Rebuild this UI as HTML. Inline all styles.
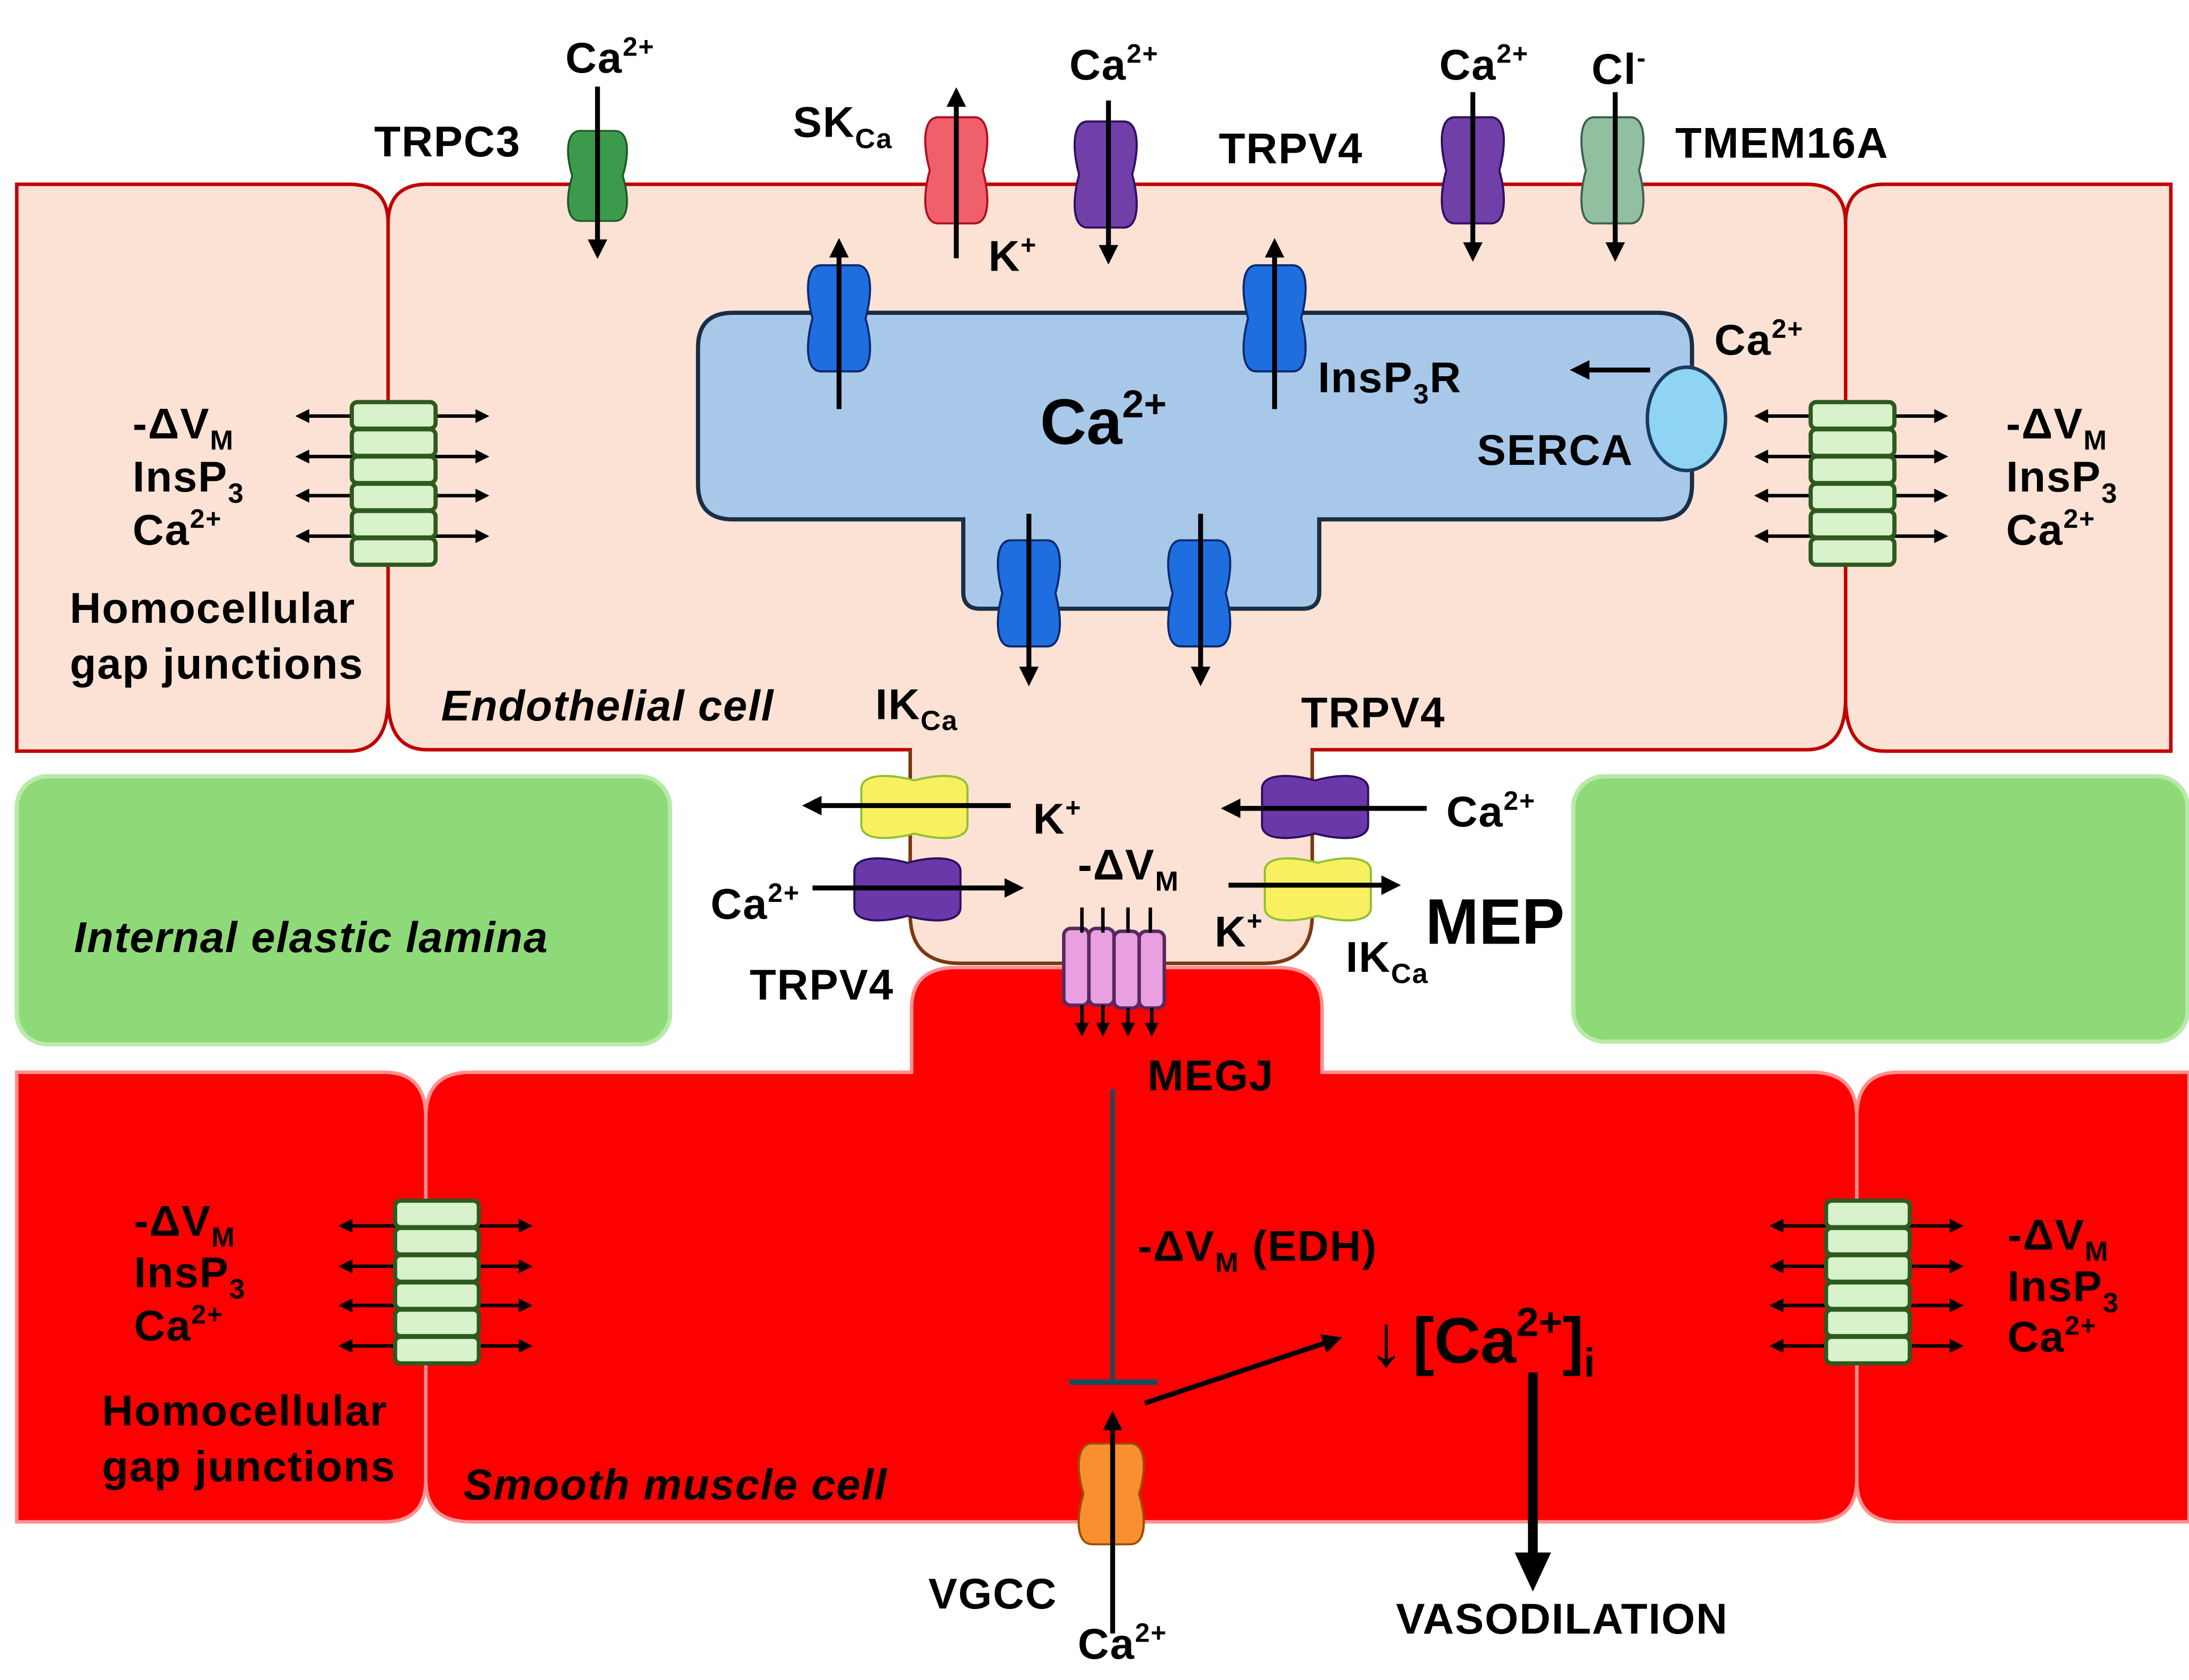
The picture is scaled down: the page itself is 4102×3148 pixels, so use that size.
<!DOCTYPE html>
<html><head><meta charset="utf-8"><style>
html,body{margin:0;padding:0;background:#fff;}
svg{display:block;}
text{font-family:"Liberation Sans",Arial,sans-serif;font-weight:bold;fill:#000;}
.l{font-size:31px;letter-spacing:0.7px;}
</style></head><body>
<svg width="4102" height="3148" viewBox="0 0 1568 1203.3" preserveAspectRatio="none" xmlns="http://www.w3.org/2000/svg">
<defs>
<marker id="ah" markerWidth="4" markerHeight="4" refX="3" refY="2" orient="auto-start-reverse" markerUnits="strokeWidth"><path d="M0,0 L4,2 L0,4 Z" fill="#000"/></marker>
<g id="vch"><path d="M-13,-38 C-24,-38 -24,-18 -19,0 C-24,18 -24,38 -13,38 L13,38 C24,38 24,18 19,0 C24,-18 24,-38 13,-38 Z"/></g>
<g id="hch"><path d="M-38,-13 C-38,-24 -18,-24 0,-19 C18,-24 38,-24 38,-13 L38,13 C38,24 18,24 0,19 C-18,24 -38,24 -38,13 Z"/></g>
<g id="gj">
<rect x="0" y="0" width="60" height="19" rx="4" fill="#d8f2cc" stroke="#2d5a1e" stroke-width="3"/>
<rect x="0" y="19.5" width="60" height="19" rx="4" fill="#d8f2cc" stroke="#2d5a1e" stroke-width="3"/>
<rect x="0" y="39" width="60" height="19" rx="4" fill="#d8f2cc" stroke="#2d5a1e" stroke-width="3"/>
<rect x="0" y="58.5" width="60" height="19" rx="4" fill="#d8f2cc" stroke="#2d5a1e" stroke-width="3"/>
<rect x="0" y="78" width="60" height="19" rx="4" fill="#d8f2cc" stroke="#2d5a1e" stroke-width="3"/>
<rect x="0" y="97.5" width="60" height="19" rx="4" fill="#d8f2cc" stroke="#2d5a1e" stroke-width="3"/>
</g>
<g id="gja" stroke="#000" stroke-width="2.5" marker-start="url(#ah)" marker-end="url(#ah)">
<line x1="-38" y1="10" x2="96" y2="10"/><line x1="-38" y1="39" x2="96" y2="39"/>
<line x1="-38" y1="67" x2="96" y2="67"/><line x1="-38" y1="96" x2="96" y2="96"/>
</g>
</defs>

<path d="M12,132 L250,132 Q278,132 278,160 L278,500 Q278,538 250,538 L12,538 Z" fill="#fbe2d4" stroke="#c00000" stroke-width="2.5"/>
<path d="M1555,132 L1350,132 Q1322,132 1322,160 L1322,500 Q1322,538 1350,538 L1555,538 Z" fill="#fbe2d4" stroke="#c00000" stroke-width="2.5"/>
<path d="M278,160 Q278,132 306,132 L1294,132 Q1322,132 1322,160 L1322,500 Q1322,537 1294,537 L940,537 L940,655 Q940,690 905,690 L688,690 Q652,690 652,655 L652,537 L306,537 Q278,537 278,500 Z" fill="#fbe2d4" stroke="#c00000" stroke-width="2.5"/>
<path d="M652,537 L652,655 Q652,690 688,690 L905,690 Q940,690 940,655 L940,537" fill="none" stroke="#7a3a10" stroke-width="2.5"/>
<rect x="654" y="530" width="284" height="14" fill="#fbe2d4"/>

<rect x="12" y="556" width="468" height="192" rx="22" fill="#8fda78" stroke="#b8eaa8" stroke-width="3"/>
<rect x="1127" y="556" width="440" height="190" rx="22" fill="#8fda78" stroke="#b8eaa8" stroke-width="3"/>

<path d="M12,768 L275,768 Q305,768 305,800 L305,1060 Q305,1090 275,1090 L12,1090 Z" fill="#ff0000" stroke="#ff9090" stroke-width="2.5"/>
<path d="M1568,768 L1360,768 Q1330,768 1330,800 L1330,1060 Q1330,1090 1360,1090 L1568,1090 Z" fill="#ff0000" stroke="#ff9090" stroke-width="2.5"/>
<path d="M305,800 Q305,768 337,768 L653,768 L653,722 Q653,693 685,693 L915,693 Q947,693 947,722 L947,768 L1298,768 Q1330,768 1330,800 L1330,1060 Q1330,1090 1298,1090 L337,1090 Q305,1090 305,1060 Z" fill="#ff0000" stroke="#ff9090" stroke-width="2.5"/>

<path d="M525,224 L1187,224 Q1212,224 1212,249 L1212,347 Q1212,372 1187,372 L945,372 L945,424 Q945,436 933,436 L702,436 Q690,436 690,424 L690,372 L525,372 Q500,372 500,347 L500,249 Q500,224 525,224 Z" fill="#a8c8ea" stroke="#1a2e44" stroke-width="3"/>

<use href="#vch" transform="translate(428,126) scale(0.95,0.85)" fill="#3c9a4c" stroke="#1e5a28" stroke-width="1.5"/>
<use href="#vch" transform="translate(685,122)" fill="#f0606a" stroke="#b01020" stroke-width="1.5"/>
<use href="#vch" transform="translate(792,125)" fill="#7040a8" stroke="#301060" stroke-width="1.5"/>
<use href="#vch" transform="translate(1055,122)" fill="#7040a8" stroke="#301060" stroke-width="1.5"/>
<use href="#vch" transform="translate(1155,122)" fill="#90c0a0" stroke="#406050" stroke-width="1.5"/>
<g stroke="#000" stroke-width="3.5" marker-end="url(#ah)">
<line x1="428" y1="62" x2="428" y2="182"/>
<line x1="685" y1="185" x2="685" y2="66"/>
<line x1="794" y1="72" x2="794" y2="186"/>
<line x1="1055" y1="66" x2="1055" y2="184"/>
<line x1="1157" y1="66" x2="1157" y2="184"/>
</g>

<use href="#vch" transform="translate(601,228)" fill="#1e6ee0" stroke="#0a2a70" stroke-width="1.5"/>
<use href="#vch" transform="translate(913,228)" fill="#1e6ee0" stroke="#0a2a70" stroke-width="1.5"/>
<use href="#vch" transform="translate(737,425)" fill="#1e6ee0" stroke="#0a2a70" stroke-width="1.5"/>
<use href="#vch" transform="translate(859,425)" fill="#1e6ee0" stroke="#0a2a70" stroke-width="1.5"/>
<g stroke="#000" stroke-width="3.5" marker-end="url(#ah)">
<line x1="601" y1="293" x2="601" y2="174"/>
<line x1="913" y1="293" x2="913" y2="174"/>
<line x1="737" y1="368" x2="737" y2="488"/>
<line x1="860" y1="368" x2="860" y2="488"/>
<line x1="1182" y1="265" x2="1128" y2="265"/>
</g>
<ellipse cx="1208" cy="300" rx="28" ry="37" fill="#8fd4f2" stroke="#1a3a60" stroke-width="2.5"/>

<use href="#hch" transform="translate(655,578)" fill="#f8f060" stroke="#90c030" stroke-width="1.5"/>
<use href="#hch" transform="translate(650,637)" fill="#6a38a8" stroke="#2a1060" stroke-width="1.5"/>
<use href="#hch" transform="translate(942,578)" fill="#6a38a8" stroke="#2a1060" stroke-width="1.5"/>
<use href="#hch" transform="translate(944,637)" fill="#f8f060" stroke="#90c030" stroke-width="1.5"/>
<g stroke="#000" stroke-width="3.5" marker-end="url(#ah)">
<line x1="724" y1="577" x2="578" y2="577"/>
<line x1="582" y1="636" x2="730" y2="636"/>
<line x1="1022" y1="579" x2="878" y2="579"/>
<line x1="880" y1="634" x2="1000" y2="634"/>
</g>

<g fill="#e8a0e0" stroke="#5a2860" stroke-width="2.5">
<rect x="762" y="665" width="18" height="55" rx="5"/>
<rect x="780" y="665" width="18" height="55" rx="5"/>
<rect x="798" y="667" width="18" height="55" rx="5"/>
<rect x="816" y="667" width="18" height="55" rx="5"/>
</g>
<g stroke="#000" stroke-width="2.5">
<line x1="775" y1="650" x2="775" y2="668"/><line x1="790" y1="650" x2="790" y2="668"/>
<line x1="808" y1="650" x2="808" y2="668"/><line x1="824" y1="650" x2="824" y2="668"/>
</g>
<g stroke="#000" stroke-width="2.5" marker-end="url(#ah)">
<line x1="775" y1="720" x2="775" y2="740"/><line x1="790" y1="720" x2="790" y2="740"/>
<line x1="808" y1="722" x2="808" y2="740"/><line x1="825" y1="722" x2="825" y2="740"/>
</g>

<line x1="797" y1="780" x2="797" y2="990" stroke="#1a4a5c" stroke-width="3"/>
<line x1="766" y1="990" x2="829" y2="990" stroke="#1a4a5c" stroke-width="4"/>

<use href="#vch" transform="translate(796,1070) scale(1.05,0.95)" fill="#f89030" stroke="#a04a00" stroke-width="1.5"/>
<g stroke="#000" stroke-width="3.5" marker-end="url(#ah)">
<line x1="797" y1="1170" x2="797" y2="1014"/>
<line x1="820" y1="1005" x2="958" y2="959"/>
</g>
<line x1="1098" y1="983" x2="1098" y2="1115" stroke="#000" stroke-width="7"/>
<path d="M1085,1112 L1111,1112 L1098,1140 Z" fill="#000"/>

<use href="#gja" transform="translate(252,288)"/>
<use href="#gj" transform="translate(252,288)"/>
<use href="#gja" transform="translate(1297,288)"/>
<use href="#gj" transform="translate(1297,288)"/>
<use href="#gja" transform="translate(283,868)"/>
<use href="#gj" transform="translate(283,860)"/>
<use href="#gja" transform="translate(1308,868)"/>
<use href="#gj" transform="translate(1308,860)"/>

<g class="l">
<text x="405" y="52">Ca<tspan font-size="19" dy="-12">2+</tspan></text>
<text x="268" y="112">TRPC3</text>
<text x="568" y="98">SK<tspan font-size="20" dy="8">Ca</tspan></text>
<text x="708" y="194">K<tspan font-size="19" dy="-12">+</tspan></text>
<text x="766" y="57">Ca<tspan font-size="19" dy="-12">2+</tspan></text>
<text x="873" y="117">TRPV4</text>
<text x="1031" y="57">Ca<tspan font-size="19" dy="-12">2+</tspan></text>
<text x="1140" y="60">Cl<tspan font-size="19" dy="-12">-</tspan></text>
<text x="1200" y="113">TMEM16A</text>
<text x="944" y="281">InsP<tspan font-size="20" dy="8">3</tspan><tspan dy="-8">R</tspan></text>
<text x="1228" y="254">Ca<tspan font-size="19" dy="-12">2+</tspan></text>
<text x="1058" y="333">SERCA</text>
<text x="95" y="314">-ΔV<tspan font-size="20" dy="8">M</tspan></text>
<text x="95" y="352">InsP<tspan font-size="20" dy="8">3</tspan></text>
<text x="95" y="390">Ca<tspan font-size="19" dy="-12">2+</tspan></text>
<text x="50" y="446">Homocellular</text>
<text x="50" y="486">gap junctions</text>
<text x="1437" y="314">-ΔV<tspan font-size="20" dy="8">M</tspan></text>
<text x="1437" y="352">InsP<tspan font-size="20" dy="8">3</tspan></text>
<text x="1437" y="390">Ca<tspan font-size="19" dy="-12">2+</tspan></text>
<text x="316" y="516" font-style="italic">Endothelial cell</text>
<text x="627" y="515">IK<tspan font-size="20" dy="8">Ca</tspan></text>
<text x="932" y="521">TRPV4</text>
<text x="740" y="597">K<tspan font-size="19" dy="-12">+</tspan></text>
<text x="1036" y="592">Ca<tspan font-size="19" dy="-12">2+</tspan></text>
<text x="509" y="658">Ca<tspan font-size="19" dy="-12">2+</tspan></text>
<text x="772" y="630">-ΔV<tspan font-size="20" dy="8">M</tspan></text>
<text x="870" y="678">K<tspan font-size="19" dy="-12">+</tspan></text>
<text x="964" y="696">IK<tspan font-size="20" dy="8">Ca</tspan></text>
<text x="537" y="716">TRPV4</text>
<text x="53" y="682" font-style="italic">Internal elastic lamina</text>
<text x="822" y="781">MEGJ</text>
<text x="815" y="903">-ΔV<tspan font-size="20" dy="8">M</tspan><tspan dy="-8"> (EDH)</tspan></text>
<text x="96" y="885">-ΔV<tspan font-size="20" dy="8">M</tspan></text>
<text x="96" y="922">InsP<tspan font-size="20" dy="8">3</tspan></text>
<text x="96" y="960">Ca<tspan font-size="19" dy="-12">2+</tspan></text>
<text x="73" y="1021">Homocellular</text>
<text x="73" y="1061">gap junctions</text>
<text x="332" y="1074" font-style="italic">Smooth muscle cell</text>
<text x="1438" y="895">-ΔV<tspan font-size="20" dy="8">M</tspan></text>
<text x="1438" y="932">InsP<tspan font-size="20" dy="8">3</tspan></text>
<text x="1438" y="968">Ca<tspan font-size="19" dy="-12">2+</tspan></text>
<text x="665" y="1152">VGCC</text>
<text x="772" y="1188">Ca<tspan font-size="19" dy="-12">2+</tspan></text>
<text x="1000" y="1170">VASODILATION</text>
</g>
<text x="745" y="318" font-size="46">Ca<tspan font-size="28" dy="-19">2+</tspan></text>
<text x="1021" y="676" font-size="46">MEP</text>
<text x="980" y="978" font-size="52" style="font-weight:normal">↓</text>
<text x="1012" y="976" font-size="46">[Ca<tspan font-size="29" dy="-19">2+</tspan><tspan dy="19">]</tspan><tspan font-size="29" dy="10">i</tspan></text>
</svg>
</body></html>
